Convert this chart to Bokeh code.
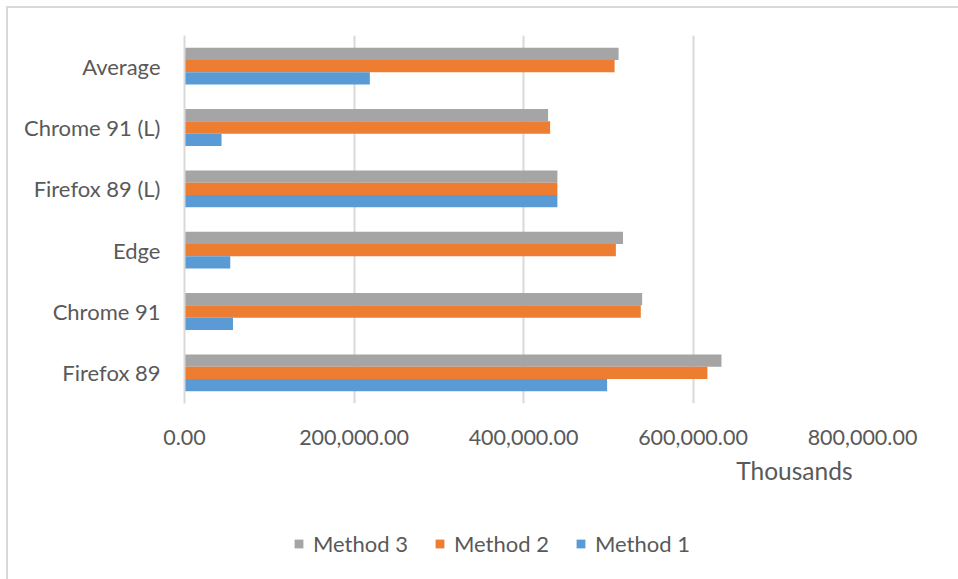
from bokeh.plotting import figure
from bokeh.layouts import column
from bokeh.models import ColumnDataSource, Legend, LegendItem, Title, NumeralTickFormatter, FixedTicker
from bokeh.transform import dodge
from bokeh.embed import file_html
from bokeh.resources import INLINE

categories = ["Firefox 89", "Chrome 91", "Edge", "Firefox 89 (L)", "Chrome 91 (L)", "Average"]
method1 = [498700, 57200, 54000, 440000, 43700, 218700]
method2 = [617000, 538400, 509000, 440000, 431400, 507500]
method3 = [633600, 540000, 517400, 440000, 429000, 512200]
series = [("Method 3", "m3", 0.2), ("Method 2", "m2", 0.0), ("Method 1", "m1", -0.2)]
x_ticks = [0, 200000, 400000, 600000, 800000]

FONT = "Lato"
TXT = "#595959"
COLORS = {"Method 1": "#5B9BD5", "Method 2": "#ED7D31", "Method 3": "#A5A5A5"}

src = ColumnDataSource(dict(cat=categories, m1=method1, m2=method2, m3=method3))

css_top = (":host::after { content: ''; position: absolute; left: 6px; top: 6px; right: 0; bottom: 0;"
           " border-left: 2px solid #d9d9d9; border-top: 2px solid #d9d9d9; pointer-events: none; z-index: 100; }")
css_side = (":host::after { content: ''; position: absolute; left: 6px; top: 0; right: 0; bottom: 0;"
            " border-left: 2px solid #d9d9d9; pointer-events: none; z-index: 100; }")

p = figure(width=958, height=500, y_range=categories, x_range=(0, 800000),
           output_backend="svg", toolbar_location=None,
           min_border_left=184, min_border_right=96, min_border_top=35, min_border_bottom=97,
           stylesheets=[css_top])
p.outline_line_color = None
p.background_fill_color = "white"
p.border_fill_color = "white"

for name, col, off in series:
    p.hbar(y=dodge("cat", off, range=p.y_range), right=col, left=0, height=0.2, source=src,
           fill_color=COLORS[name], line_color=None)

p.xaxis.ticker = FixedTicker(ticks=x_ticks)
p.xaxis.formatter = NumeralTickFormatter(format="0,0.00")
p.xaxis.axis_line_color = None
p.xaxis.major_tick_line_color = None
p.xaxis.minor_tick_line_color = None
p.xaxis.major_label_text_font = FONT
p.xaxis.major_label_text_font_size = "21.5px"
p.xaxis.major_label_text_color = TXT
p.xaxis.major_label_standoff = 20

p.yaxis.axis_line_color = "#d9d9d9"
p.yaxis.axis_line_width = 2
p.yaxis.major_tick_line_color = None
p.yaxis.minor_tick_line_color = None
p.yaxis.major_label_text_font = FONT
p.yaxis.major_label_text_font_size = "22px"
p.yaxis.major_label_text_color = TXT
p.yaxis.major_label_standoff = 18

p.xgrid.grid_line_color = "#d9d9d9"
p.xgrid.grid_line_width = 2
p.ygrid.grid_line_color = None

p.add_layout(Title(text="Thousands", align="right", offset=10, text_font=FONT,
                   text_font_size="24.5px", text_color=TXT, text_font_style="normal",
                   standoff=12), "below")

# legend strip: same series with zero-height bars, so only their legend glyphs show
p2 = figure(width=958, height=79, x_range=(-2, -1), y_range=categories,
            output_backend="svg", toolbar_location=None,
            min_border_left=24, min_border_top=9, min_border_right=0, min_border_bottom=0,
            stylesheets=[css_side])
p2.axis.visible = False
p2.grid.visible = False
p2.outline_line_color = None
items = []
for name, col, off in series:
    rr = p2.hbar(y=dodge("cat", off, range=p2.y_range), right=col, left=0, height=0, source=src,
                 fill_color=COLORS[name], line_color=None)
    items.append(LegendItem(label=name, renderers=[rr]))

legend = Legend(items=items, orientation="horizontal", location=(109, 22),
                label_text_font=FONT, label_text_font_size="22px", label_text_color=TXT,
                glyph_width=11, glyph_height=11, spacing=26, label_standoff=9,
                padding=0, margin=0,
                background_fill_alpha=0, border_line_color=None)
p2.add_layout(legend, "center")

open("out.html", "w").write(file_html(column(p, p2, spacing=0), INLINE))
